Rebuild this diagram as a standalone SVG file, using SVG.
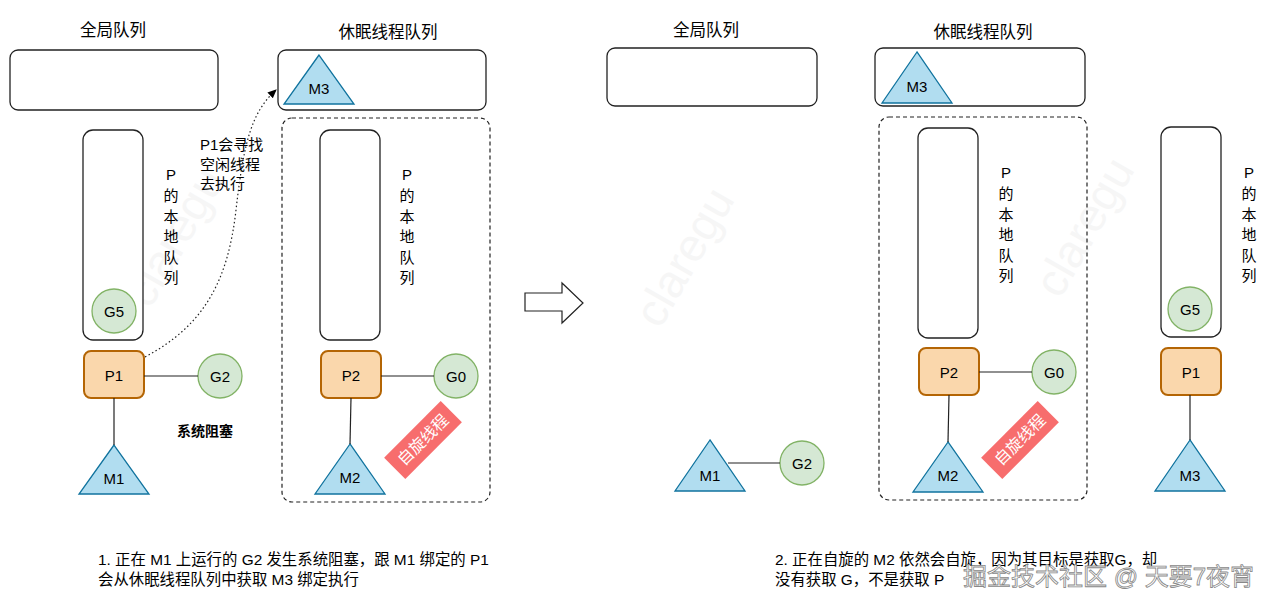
<svg xmlns="http://www.w3.org/2000/svg" width="1280" height="606" viewBox="0 0 1280 606">
<style>
text{font-family:"Liberation Sans","Noto Sans CJK SC",sans-serif;fill:#000;}
.t{font-size:16.5px;text-anchor:middle;}
.lbl{font-size:15px;text-anchor:middle;dominant-baseline:central;}
.box{fill:#fff;stroke:#222;stroke-width:1.3;}
.dash{fill:none;stroke:#222;stroke-width:1.2;stroke-dasharray:4 3;}
.p{fill:#fad7ac;stroke:#b46504;stroke-width:2;}
.g{fill:#d5e8d4;stroke:#82b366;stroke-width:1.3;}
.m{fill:#b1ddf0;stroke:#10739e;stroke-width:1.3;}
.ln{stroke:#222;stroke-width:1.2;fill:none;}
.badge{fill:#f76d6d;}
.bt{font-size:16px;fill:#fff;text-anchor:middle;dominant-baseline:central;}
.note{font-size:15.4px;}
.wm{font-size:46px;fill:#f6f6f6;font-family:"Liberation Sans",sans-serif;}
</style>
<defs>
<marker id="ah" markerWidth="10" markerHeight="10" refX="8" refY="5" orient="auto" markerUnits="userSpaceOnUse">
<path d="M0,1 L9,5 L0,9 Z" fill="#000"/>
</marker>
</defs>
<rect width="1280" height="606" fill="#fff"/>
<g id="watermarks">
<text class="wm" transform="translate(150,310) rotate(-60)">claregu</text>
<text class="wm" transform="translate(1060,300) rotate(-60)">claregu</text>
<text class="wm" transform="translate(660,330) rotate(-60)">claregu</text>
</g>
<!-- left panel -->
<g id="left-global-title"><text class="t" x="113" y="36">全局队列</text></g>
<g id="left-global"><rect class="box" x="10" y="50" width="208" height="60" rx="8"/></g>
<g id="left-sleep-title"><text class="t" x="388" y="38">休眠线程队列</text></g>
<g id="left-sleep"><rect class="box" x="278" y="50" width="208" height="60" rx="8"/></g>
<g id="left-m3"><path class="m" d="M319,55 L284,104 L354,104 Z"/><text class="lbl" x="319" y="88">M3</text></g>
<g id="left-spin-group"><rect class="dash" x="282" y="118" width="208" height="384" rx="10"/></g>
<g id="left-lq1"><rect class="box" x="83" y="130" width="60" height="210" rx="10"/></g>
<g id="left-lq1-label">
<text class="lbl" x="171" y="174">P</text><text class="lbl" x="171" y="195">的</text><text class="lbl" x="171" y="216">本</text><text class="lbl" x="171" y="236">地</text><text class="lbl" x="171" y="257">队</text><text class="lbl" x="171" y="277">列</text>
</g>
<g id="left-g5"><circle class="g" cx="114" cy="311" r="22"/><text class="lbl" x="114" y="311">G5</text></g>
<g id="left-p1"><rect class="p" x="84" y="351" width="60" height="47" rx="7"/><text class="lbl" x="114" y="375">P1</text></g>
<g id="left-g2"><circle class="g" cx="220" cy="376" r="22"/><text class="lbl" x="220" y="376">G2</text></g>
<g id="left-m1"><path class="m" d="M114,445 L79,494 L149,494 Z"/><text class="lbl" x="114" y="478">M1</text></g>
<g id="left-block-label"><text x="205" y="436" style="font-size:14px;font-weight:bold;text-anchor:middle">系统阻塞</text></g>
<g id="left-find-label">
<text x="200" y="150" style="font-size:15px">P1会寻找</text>
<text x="200" y="170" style="font-size:15px">空闲线程</text>
<text x="200" y="189" style="font-size:15px">去执行</text>
</g>
<g id="left-lq2"><rect class="box" x="320" y="130" width="60" height="210" rx="10"/></g>
<g id="left-lq2-label">
<text class="lbl" x="407" y="174">P</text><text class="lbl" x="407" y="195">的</text><text class="lbl" x="407" y="216">本</text><text class="lbl" x="407" y="236">地</text><text class="lbl" x="407" y="257">队</text><text class="lbl" x="407" y="277">列</text>
</g>
<g id="left-p2"><rect class="p" x="321" y="351" width="60" height="47" rx="7"/><text class="lbl" x="351" y="375">P2</text></g>
<g id="left-g0"><circle class="g" cx="456" cy="376" r="22"/><text class="lbl" x="456" y="376">G0</text></g>
<g id="left-m2"><path class="m" d="M350,444 L315,494 L385,494 Z"/><text class="lbl" x="350" y="477">M2</text></g>
<g id="left-badge" transform="translate(423,440) rotate(-45)"><rect class="badge" x="-40" y="-15" width="80" height="30"/><text class="bt" x="0" y="0">自旋线程</text></g>
<g id="transition-arrow"><path d="M525,293 L562,293 L562,283 L583,303 L562,323 L562,311 L525,311 Z" fill="#fff" stroke="#222" stroke-width="1.2"/></g>
<!-- right panel -->
<g id="right-global-title"><text class="t" x="706" y="36">全局队列</text></g>
<g id="right-global"><rect class="box" x="607" y="48" width="210" height="58" rx="8"/></g>
<g id="right-sleep-title"><text class="t" x="983" y="38">休眠线程队列</text></g>
<g id="right-sleep"><rect class="box" x="875" y="48" width="210" height="58" rx="8"/></g>
<g id="right-m3top"><path class="m" d="M917,52 L882,103 L952,103 Z"/><text class="lbl" x="917" y="86">M3</text></g>
<g id="right-spin-group"><rect class="dash" x="879" y="117" width="208" height="383" rx="10"/></g>
<g id="right-lq2"><rect class="box" x="918" y="128" width="60" height="210" rx="10"/></g>
<g id="right-lq2-label">
<text class="lbl" x="1006" y="172">P</text><text class="lbl" x="1006" y="193">的</text><text class="lbl" x="1006" y="214">本</text><text class="lbl" x="1006" y="234">地</text><text class="lbl" x="1006" y="255">队</text><text class="lbl" x="1006" y="275">列</text>
</g>
<g id="right-p2"><rect class="p" x="919" y="348" width="60" height="47" rx="7"/><text class="lbl" x="949" y="372">P2</text></g>
<g id="right-g0"><circle class="g" cx="1054" cy="372" r="22"/><text class="lbl" x="1054" y="372">G0</text></g>
<g id="right-m2"><path class="m" d="M948,442 L913,492 L983,492 Z"/><text class="lbl" x="948" y="475">M2</text></g>
<g id="right-badge" transform="translate(1020,440) rotate(-45)"><rect class="badge" x="-40" y="-15" width="80" height="30"/><text class="bt" x="0" y="0">自旋线程</text></g>
<g id="right-m1"><path class="m" d="M710,440 L675,491 L745,491 Z"/><text class="lbl" x="710" y="475">M1</text></g>
<g id="right-g2"><circle class="g" cx="802" cy="463" r="22"/><text class="lbl" x="802" y="463">G2</text></g>
<g id="right-lq1"><rect class="box" x="1161" y="127" width="60" height="210" rx="10"/></g>
<g id="right-lq1-label">
<text class="lbl" x="1249" y="172">P</text><text class="lbl" x="1249" y="193">的</text><text class="lbl" x="1249" y="214">本</text><text class="lbl" x="1249" y="234">地</text><text class="lbl" x="1249" y="255">队</text><text class="lbl" x="1249" y="275">列</text>
</g>
<g id="right-g5"><circle class="g" cx="1190" cy="309" r="22"/><text class="lbl" x="1190" y="309">G5</text></g>
<g id="right-p1"><rect class="p" x="1161" y="348" width="60" height="47" rx="7"/><text class="lbl" x="1191" y="372">P1</text></g>
<g id="right-m3"><path class="m" d="M1190,440 L1155,491 L1225,491 Z"/><text class="lbl" x="1190" y="475">M3</text></g>
<g id="connectors">
<line class="ln" x1="144" y1="376" x2="198" y2="376"/>
<line class="ln" x1="114" y1="398" x2="114" y2="445"/>
<line class="ln" x1="381" y1="376" x2="434" y2="376"/>
<line class="ln" x1="351" y1="398" x2="350" y2="444"/>
<line class="ln" x1="979" y1="372" x2="1032" y2="372"/>
<line class="ln" x1="949" y1="395" x2="948" y2="442"/>
<line class="ln" x1="728" y1="463" x2="780" y2="463"/>
<line class="ln" x1="1190" y1="395" x2="1190" y2="440"/>
<path d="M145,357 C205,325 228,280 236,210 C244,140 252,112 276,90" fill="none" stroke="#222" stroke-width="1.2" stroke-dasharray="1.5 2.5" marker-end="url(#ah)"/>
</g>
<g id="note-left">
<text class="note" x="98" y="565">1. 正在 M1 上运行的 G2 发生系统阻塞，跟 M1 绑定的 P1</text>
<text class="note" x="98" y="585">会从休眠线程队列中获取 M3 绑定执行</text>
</g>
<g id="note-right">
<text class="note" x="775" y="565">2. 正在自旋的 M2 依然会自旋，因为其目标是获取G，却</text>
<text class="note" x="775" y="585">没有获取 G，不是获取 P</text>
</g>
<g id="site-watermark"><text x="963" y="585" style="font-size:24px;fill:#fff;stroke:#888;stroke-width:0.8">掘金技术社区 @ 天要7夜宵</text></g>
</svg>
